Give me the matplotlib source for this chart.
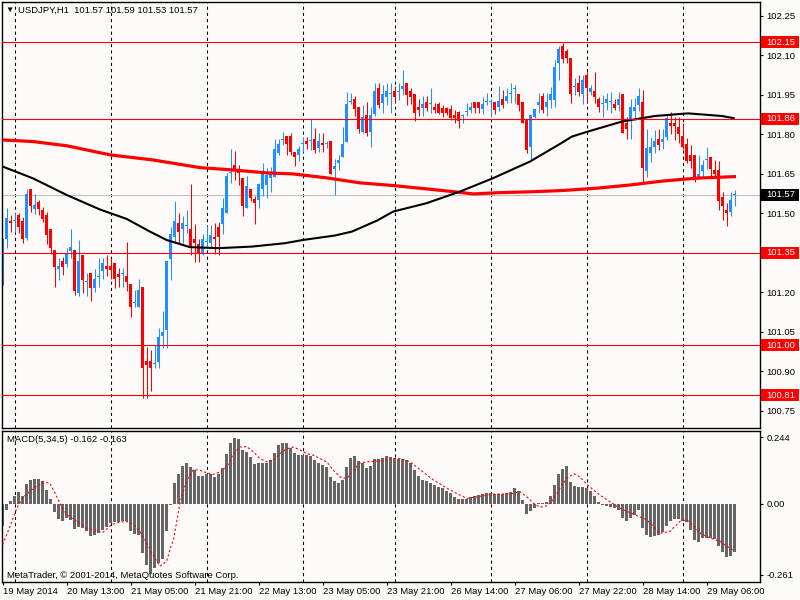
import numpy as np
import matplotlib
matplotlib.use("Agg")
import matplotlib.pyplot as plt
from matplotlib.patches import Rectangle

plt.rcParams['font.family'] = ['Liberation Sans', 'DejaVu Sans']

# USDJPY H1 candles, 19 May 21:00 .. 29 May 13:00
opens = [101.312, 101.403, 101.471, 101.471, 101.494, 101.471, 101.407, 101.593, 101.517, 101.544,
         101.513, 101.494, 101.441, 101.361, 101.289, 101.320, 101.308, 101.358, 101.361, 101.198,
         101.343, 101.240, 101.274, 101.217, 101.259, 101.282, 101.301, 101.301, 101.312, 101.270,
         101.270, 101.263, 101.232, 101.160, 101.145, 101.221, 100.940, 100.940, 100.928, 100.936,
         101.035, 101.058, 101.327, 101.411, 101.464, 101.441, 101.453, 101.441, 101.403, 101.384,
         101.350, 101.392, 101.388, 101.411, 101.449, 101.460, 101.502, 101.654, 101.684, 101.669,
         101.635, 101.521, 101.593, 101.555, 101.551, 101.593, 101.609, 101.635, 101.639, 101.730,
         101.779, 101.794, 101.794, 101.734, 101.722, 101.764, 101.775, 101.775, 101.783, 101.749,
         101.768, 101.764, 101.775, 101.669, 101.692, 101.715, 101.772, 101.923, 101.935, 101.905,
         101.810, 101.874, 101.810, 101.878, 101.977, 101.920, 101.942, 101.954, 101.965, 101.961,
         101.973, 101.996, 101.965, 101.954, 101.905, 101.901, 101.923, 101.916, 101.905, 101.916,
         101.901, 101.901, 101.897, 101.874, 101.886, 101.870, 101.886, 101.893, 101.923, 101.923,
         101.897, 101.923, 101.923, 101.923, 101.905, 101.935, 101.927, 101.954, 101.973, 101.954,
         101.923, 101.855, 101.753, 101.867, 101.912, 101.946, 101.905, 101.931, 101.931, 102.072,
         102.136, 102.117, 102.091, 101.981, 101.996, 101.954, 102.026, 101.961, 101.965, 101.935,
         101.916, 101.920, 101.923, 101.916, 101.912, 101.954, 101.844, 101.855, 101.889, 101.912,
         101.923, 101.661, 101.730, 101.753, 101.783, 101.772, 101.791, 101.844, 101.844, 101.829,
         101.794, 101.764, 101.722, 101.722, 101.639, 101.661, 101.703, 101.715, 101.665, 101.665,
         101.563, 101.513, 101.506, 101.570]
highs = [101.407, 101.521, 101.494, 101.502, 101.502, 101.487, 101.593, 101.593, 101.574, 101.551,
         101.525, 101.506, 101.441, 101.361, 101.331, 101.335, 101.369, 101.441, 101.361, 101.399,
         101.343, 101.274, 101.274, 101.289, 101.331, 101.331, 101.343, 101.331, 101.312, 101.293,
         101.293, 101.392, 101.232, 101.209, 101.251, 101.221, 100.993, 100.981, 101.001, 101.065,
         101.130, 101.320, 101.449, 101.547, 101.502, 101.491, 101.513, 101.612, 101.460, 101.403,
         101.422, 101.453, 101.456, 101.464, 101.468, 101.559, 101.654, 101.745, 101.737, 101.684,
         101.635, 101.642, 101.593, 101.567, 101.616, 101.692, 101.673, 101.677, 101.783, 101.783,
         101.810, 101.794, 101.806, 101.734, 101.756, 101.791, 101.791, 101.859, 101.825, 101.806,
         101.806, 101.775, 101.775, 101.707, 101.722, 101.829, 101.961, 101.958, 101.946, 101.905,
         101.912, 101.923, 101.905, 101.996, 101.996, 101.988, 101.996, 101.996, 101.984, 101.996,
         102.045, 101.996, 101.977, 101.954, 101.935, 101.946, 101.946, 101.977, 101.920, 101.923,
         101.912, 101.905, 101.912, 101.893, 101.889, 101.878, 101.920, 101.923, 101.923, 101.923,
         101.942, 101.958, 101.935, 101.923, 101.984, 101.969, 101.977, 101.996, 101.988, 101.954,
         101.923, 101.855, 101.874, 101.897, 101.958, 101.958, 101.958, 101.981, 102.083, 102.136,
         102.148, 102.125, 102.091, 102.015, 102.026, 102.026, 102.037, 101.988, 102.037, 101.942,
         101.950, 101.958, 101.961, 101.935, 101.961, 101.954, 101.867, 101.935, 101.939, 101.977,
         101.969, 101.821, 101.791, 101.817, 101.821, 101.821, 101.874, 101.886, 101.867, 101.867,
         101.844, 101.787, 101.760, 101.722, 101.722, 101.703, 101.753, 101.715, 101.703, 101.699,
         101.582, 101.540, 101.582, 101.590]
lows = [101.228, 101.369, 101.430, 101.430, 101.426, 101.388, 101.399, 101.506, 101.498, 101.494,
        101.468, 101.384, 101.347, 101.221, 101.247, 101.267, 101.297, 101.331, 101.190, 101.187,
        101.198, 101.187, 101.168, 101.202, 101.221, 101.251, 101.263, 101.251, 101.217, 101.221,
        101.221, 101.206, 101.107, 101.145, 101.145, 100.799, 100.799, 100.826, 100.913, 100.913,
        100.989, 100.989, 101.247, 101.388, 101.388, 101.388, 101.426, 101.343, 101.316, 101.316,
        101.343, 101.369, 101.373, 101.347, 101.343, 101.422, 101.502, 101.616, 101.627, 101.609,
        101.491, 101.521, 101.547, 101.460, 101.521, 101.567, 101.559, 101.582, 101.639, 101.722,
        101.760, 101.722, 101.722, 101.680, 101.699, 101.734, 101.745, 101.741, 101.730, 101.734,
        101.734, 101.749, 101.650, 101.570, 101.665, 101.715, 101.772, 101.916, 101.870, 101.806,
        101.806, 101.794, 101.753, 101.870, 101.901, 101.882, 101.912, 101.882, 101.920, 101.931,
        101.950, 101.912, 101.916, 101.851, 101.870, 101.870, 101.889, 101.882, 101.882, 101.878,
        101.867, 101.874, 101.855, 101.844, 101.825, 101.844, 101.870, 101.882, 101.882, 101.882,
        101.878, 101.912, 101.867, 101.878, 101.889, 101.901, 101.920, 101.920, 101.920, 101.889,
        101.844, 101.730, 101.703, 101.863, 101.882, 101.882, 101.870, 101.901, 101.905, 102.007,
        102.072, 102.072, 101.920, 101.950, 101.946, 101.916, 101.923, 101.950, 101.920, 101.886,
        101.867, 101.893, 101.882, 101.893, 101.889, 101.806, 101.783, 101.783, 101.855, 101.889,
        101.620, 101.639, 101.696, 101.730, 101.741, 101.745, 101.779, 101.802, 101.779, 101.768,
        101.745, 101.692, 101.673, 101.620, 101.639, 101.635, 101.669, 101.639, 101.639, 101.513,
        101.475, 101.453, 101.491, 101.530]
closes = [101.380, 101.483, 101.464, 101.471, 101.449, 101.403, 101.574, 101.529, 101.532, 101.517,
          101.479, 101.419, 101.369, 101.297, 101.301, 101.297, 101.350, 101.373, 101.206, 101.320,
          101.247, 101.240, 101.217, 101.251, 101.259, 101.312, 101.289, 101.286, 101.251, 101.259,
          101.270, 101.240, 101.145, 101.160, 101.209, 100.913, 100.925, 100.913, 100.928, 101.031,
          101.050, 101.320, 101.422, 101.471, 101.430, 101.464, 101.453, 101.377, 101.388, 101.350,
          101.403, 101.392, 101.419, 101.403, 101.411, 101.521, 101.642, 101.654, 101.661, 101.654,
          101.529, 101.605, 101.559, 101.540, 101.612, 101.654, 101.646, 101.654, 101.745, 101.764,
          101.779, 101.764, 101.734, 101.715, 101.745, 101.764, 101.764, 101.775, 101.741, 101.775,
          101.760, 101.764, 101.650, 101.680, 101.703, 101.764, 101.916, 101.923, 101.897, 101.821,
          101.867, 101.806, 101.874, 101.965, 101.912, 101.954, 101.965, 101.954, 101.942, 101.961,
          101.984, 101.950, 101.942, 101.882, 101.893, 101.916, 101.901, 101.916, 101.893, 101.882,
          101.882, 101.882, 101.863, 101.863, 101.851, 101.870, 101.886, 101.905, 101.901, 101.901,
          101.916, 101.923, 101.923, 101.893, 101.927, 101.912, 101.946, 101.954, 101.973, 101.912,
          101.844, 101.741, 101.874, 101.897, 101.923, 101.893, 101.923, 101.954, 102.056, 102.125,
          102.087, 102.091, 101.954, 101.981, 101.961, 102.007, 101.977, 101.977, 101.942, 101.905,
          101.916, 101.935, 101.923, 101.901, 101.935, 101.806, 101.821, 101.905, 101.905, 101.946,
          101.673, 101.749, 101.753, 101.775, 101.760, 101.783, 101.863, 101.832, 101.832, 101.802,
          101.753, 101.699, 101.699, 101.627, 101.650, 101.684, 101.703, 101.669, 101.650, 101.547,
          101.529, 101.502, 101.551, 101.570]

# moving averages read at sample bars
red_ma_bar = [0, 7.6, 16, 27, 37.6, 49.3, 57.6, 66, 72.6, 81, 89.3, 97.6, 106, 114.3, 117.6,
              124.3, 131.8, 140, 148.6, 156.8, 165, 173.6, 183.3]
red_ma_val = [101.779, 101.773, 101.757, 101.722, 101.703, 101.674, 101.665, 101.654, 101.650,
              101.635, 101.616, 101.606, 101.593, 101.580, 101.574, 101.579, 101.582, 101.587,
              101.596, 101.608, 101.623, 101.634, 101.640]
black_ma_bar = [0, 7.6, 16, 24.3, 31, 36.8, 41, 46.8, 53.8, 62.3, 70.6, 75, 83, 87.3, 93.6, 97.6,
                106, 114.3, 122.6, 131.8, 139.3, 142.3, 146.3, 154.8, 163, 171.3, 179.8, 183]
black_ma_val = [101.678, 101.633, 101.570, 101.515, 101.479, 101.431, 101.399, 101.372, 101.368,
                101.374, 101.387, 101.399, 101.416, 101.431, 101.473, 101.507, 101.539, 101.583,
                101.634, 101.697, 101.764, 101.792, 101.811, 101.849, 101.870, 101.880, 101.870,
                101.861]

# MACD(5,34,5) histogram, one value per bar
macd = [-0.081, -0.023, 0.010, 0.028, 0.044, 0.028, 0.071, 0.086, 0.092, 0.092,
        0.082, 0.050, 0.017, -0.029, -0.056, -0.063, -0.051, -0.059, -0.092, -0.086,
        -0.090, -0.099, -0.117, -0.114, -0.108, -0.096, -0.084, -0.071, -0.069, -0.069,
        -0.065, -0.065, -0.099, -0.111, -0.114, -0.180, -0.225, -0.259, -0.235, -0.217,
        -0.202, -0.102, -0.005, 0.077, 0.107, 0.137, 0.149, 0.134, 0.122, 0.100,
        0.100, 0.107, 0.107, 0.098, 0.110, 0.131, 0.183, 0.222, 0.240, 0.235,
        0.195, 0.189, 0.171, 0.146, 0.149, 0.149, 0.150, 0.159, 0.185, 0.213,
        0.223, 0.222, 0.205, 0.186, 0.177, 0.177, 0.177, 0.173, 0.159, 0.149,
        0.143, 0.134, 0.096, 0.082, 0.074, 0.086, 0.134, 0.167, 0.173, 0.155,
        0.149, 0.131, 0.137, 0.162, 0.162, 0.167, 0.173, 0.171, 0.167, 0.165,
        0.165, 0.159, 0.149, 0.122, 0.100, 0.088, 0.082, 0.074, 0.070, 0.062,
        0.056, 0.046, 0.038, 0.025, 0.016, 0.017, 0.017, 0.025, 0.028, 0.031,
        0.035, 0.040, 0.040, 0.035, 0.035, 0.035, 0.038, 0.044, 0.056, 0.046,
        0.013, -0.038, -0.027, -0.017, 0.004, 0.004, 0.007, 0.028, 0.068, 0.110,
        0.126, 0.138, 0.080, 0.064, 0.062, 0.062, 0.058, 0.047, 0.028, 0.007,
        -0.005, -0.008, -0.011, -0.017, -0.023, -0.051, -0.063, -0.053, -0.041, -0.025,
        -0.090, -0.114, -0.122, -0.120, -0.114, -0.105, -0.081, -0.065, -0.057, -0.056,
        -0.065, -0.069, -0.098, -0.132, -0.142, -0.126, -0.126, -0.126, -0.130, -0.156,
        -0.178, -0.196, -0.190, -0.178]
signal_bar = [0, 1.8, 3.5, 5.2, 7.7, 10.2, 11.8, 13.1, 14.3, 16, 18.5, 21, 23.5, 25.2, 27.2,
              29.3, 31, 32.7, 34.3, 36, 37.7, 39.3, 41, 41.8, 42.7, 44.3, 46, 47.7, 49.3, 51,
              52.7, 54.3, 56, 57.7, 59.3, 61, 62.7, 64.3, 66, 67.7, 69.3, 71, 72.7, 74.3, 76,
              77.7, 79.3, 81, 82.7, 84.3, 86, 87.7, 89.3, 91, 94.3, 97.7, 99.3, 101.8, 104.3,
              107.7, 111.8, 116, 118.5, 122.7, 126.8, 129.3, 131, 132.7, 134.3, 136, 137.7,
              139.3, 141, 142.7, 144.3, 146, 147.7, 149.3, 151.8, 154.3, 157.7, 161, 164.3,
              166.8, 169.3, 171, 172.7, 174.3, 176.8, 179.3, 181, 182.7]
signal_val = [-0.150, -0.084, -0.017, 0.025, 0.056, 0.080, 0.074, 0.038, 0.001, -0.041,
              -0.065, -0.090, -0.102, -0.104, -0.077, -0.068, -0.065, -0.077, -0.102, -0.144,
              -0.192, -0.229, -0.211, -0.168, -0.132, 0.001, 0.086, 0.125, 0.122, 0.113,
              0.107, 0.116, 0.134, 0.183, 0.207, 0.209, 0.189, 0.165, 0.153, 0.159,
              0.183, 0.201, 0.207, 0.197, 0.183, 0.177, 0.165, 0.153, 0.122, 0.098,
              0.092, 0.122, 0.149, 0.153, 0.156, 0.165, 0.165, 0.153, 0.125, 0.086,
              0.050, 0.019, 0.025, 0.035, 0.035, 0.044, 0.025, 0.001, -0.013, -0.008,
              0.016, 0.056, 0.092, 0.110, 0.098, 0.071, 0.050, 0.031, 0.007, -0.017,
              -0.039, -0.059, -0.108, -0.102, -0.065, -0.059, -0.081, -0.108, -0.126, -0.138,
              -0.156, -0.172]

red_levels = [102.15, 101.86, 101.35, 101.00, 100.81]
bid = 101.57
price_ticks = [102.25, 102.10, 101.95, 101.80, 101.65, 101.50, 101.35, 101.20, 101.05, 100.90, 100.75]
macd_ticks = [0.244, 0.0, -0.261]
day_bars = [3, 27, 51, 75, 98, 122, 146, 170]
time_bars = [0, 16, 32, 48, 64, 80, 96, 112, 128, 144, 160, 176]
time_labels = ['19 May 2014', '20 May 13:00', '21 May 05:00', '21 May 21:00', '22 May 13:00',
               '23 May 05:00', '23 May 21:00', '26 May 14:00', '27 May 06:00', '27 May 22:00',
               '28 May 14:00', '29 May 06:00']

bg = '#fffafa'
up_col = '#1e90ff'
dn_col = '#ff0000'
fs = 6.8

fig = plt.figure(figsize=(8, 6), dpi=100, facecolor=bg)
ax = fig.add_axes([2 / 800, 1 - 428 / 600, 758 / 800, 426 / 600], facecolor=bg)
ax2 = fig.add_axes([2 / 800, 1 - 582 / 600, 758 / 800, 151 / 600], facecolor=bg)

n = len(closes)
bars = np.arange(n)
o = np.array(opens)
c = np.array(closes)
cols = [up_col if cc >= oo else dn_col for oo, cc in zip(o, c)]

for a in (ax, ax2):
    for b in day_bars:
        a.axvline(b, color='black', lw=0.75, ls=(0, (3, 3)), zorder=0.5)
    for s in a.spines.values():
        s.set_linewidth(1.0)
    a.set_xlim(-0.175, 189.3)

# price panel
ax.axhline(bid, color='#c0c0c0', lw=0.8, zorder=0.8)
ax.vlines(bars, lows, highs, colors=cols, lw=0.75, zorder=2)
bottoms = np.minimum(o, c)
heights = np.maximum(np.abs(c - o), 0.0038)
ax.bar(bars, heights, bottom=bottoms, width=0.8, color=cols, linewidth=0, zorder=2.1)
ax.plot(red_ma_bar, red_ma_val, color='red', lw=2.3, zorder=3, solid_capstyle='butt')
ax.plot(black_ma_bar, black_ma_val, color='black', lw=1.5, zorder=3.1, solid_capstyle='butt')
for lv in red_levels:
    ax.axhline(lv, color='red', lw=0.8, zorder=4)

ax.set_ylim(100.685, 102.303)
ax.set_xticks([])
ax.yaxis.tick_right()
ax.set_yticks(price_ticks)
ax.set_yticklabels([f'{t:.2f}' for t in price_ticks])
ax.tick_params(axis='y', length=2.5, width=0.8, pad=2, labelsize=fs, colors='black')

box_h = 12 / 263.3
for lv, fc in [(v, 'red') for v in red_levels] + [(bid, 'black')]:
    ax.add_patch(Rectangle((1.0013, lv - box_h / 2), 0.0501, box_h, transform=ax.get_yaxis_transform(),
                           facecolor=fc, edgecolor='none', clip_on=False, zorder=6))
    ax.text(1.0079, lv, f'{lv:.2f}', transform=ax.get_yaxis_transform(), color='white',
            fontsize=fs, va='center', ha='left', zorder=7, clip_on=False)

# MACD panel
ax2.bar(bars, macd, width=0.8, color='#666666', linewidth=0, zorder=2)
ax2.plot(signal_bar, signal_val, color='red', lw=0.8, ls=(0, (2, 2)), zorder=3)
ax2.set_ylim(-0.287, 0.266)
ax2.yaxis.tick_right()
ax2.set_yticks(macd_ticks)
ax2.set_yticklabels(['0.244', '0.00', '-0.261'])
ax2.tick_params(axis='y', length=2.5, width=0.8, pad=2, labelsize=fs)
ax2.set_xticks(time_bars)
ax2.set_xticklabels(time_labels)
ax2.tick_params(axis='x', length=2.5, width=0.8, pad=1, labelsize=fs)
for lab in ax2.get_xticklabels():
    lab.set_ha('left')

# captions
fig.text(9 / 800, 1 - 10 / 600, '\u25bc', fontsize=6, va='center', ha='center')
fig.text(18 / 800, 1 - 10 / 600, 'USDJPY,H1  101.57 101.59 101.53 101.57', fontsize=fs, va='center')
fig.text(7 / 800, 1 - 440 / 600, 'MACD(5,34,5) -0.162 -0.163', fontsize=fs, va='center')
fig.text(7 / 800, 1 - 575 / 600, 'MetaTrader, \u00a9 2001-2014, MetaQuotes Software Corp.',
         fontsize=fs, va='center')

fig.savefig('out.png', dpi=100, facecolor=bg)
